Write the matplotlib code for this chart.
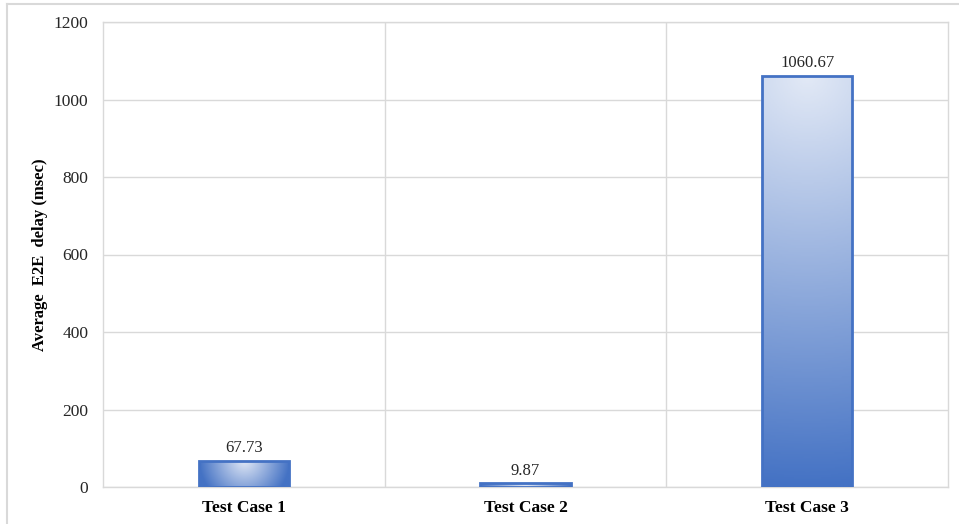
import numpy as np
import matplotlib.pyplot as plt
from matplotlib.colors import LinearSegmentedColormap
from matplotlib.lines import Line2D

categories = ["Test Case 1", "Test Case 2", "Test Case 3"]
delays = [67.73, 9.87, 1060.67]
yticks = [0, 200, 400, 600, 800, 1000, 1200]

plt.rcParams["font.family"] = ["Liberation Serif", "DejaVu Serif"]

fig = plt.figure(figsize=(9.59, 5.24), dpi=100)
ax = fig.add_axes([103 / 959, 37 / 524, 845 / 959, 465 / 524])

x = np.arange(len(categories))
width = 0.32
ax.set_xlim(-0.5, len(categories) - 0.5)
ax.set_ylim(0, 1200)

cmap = LinearSegmentedColormap.from_list("grad", ["#e2e9f6", "#4472c4"])

# pixels per data unit, used to shape each bar's gradient
px_x = 845 / len(categories)
px_y = 465 / 1200

for xi, val in zip(x, delays):
    bars = ax.bar(xi, val, width=width, facecolor="none", edgecolor="#4472c4",
                  linewidth=2, zorder=4)
    hw = width / 2 * px_x
    h = val * px_y
    r = max(hw, h)
    u = np.linspace(-1, 1, 120)[None, :] * hw / r
    v = np.linspace(0, 1, 200)[:, None] * h / r
    t = np.clip(np.sqrt(u ** 2 + v ** 2), 0, 1)
    im = ax.imshow(t, cmap=cmap, vmin=0, vmax=1, aspect="auto",
                   extent=[xi - width / 2, xi + width / 2, 0, val],
                   origin="upper", zorder=3)
    im.set_clip_path(bars[0])
    ax.text(xi, val + 12, "{:.2f}".format(val), ha="center", va="bottom",
            fontsize=12, color="#262626", zorder=5)

ax.set_xlim(-0.5, len(categories) - 0.5)
ax.set_ylim(0, 1200)
ax.set_yticks(yticks)
ax.set_xticks(x)
ax.set_xticklabels(categories, fontsize=12.5, fontweight="bold")
ax.tick_params(axis="y", labelsize=12.5, length=0, pad=10.5, labelcolor="#262626")
ax.tick_params(axis="x", length=0, pad=9)

ax.grid(axis="y", color="#d9d9d9", linewidth=1)
ax.set_axisbelow(True)
for b in [0.5, 1.5]:
    ax.axvline(b, color="#d9d9d9", linewidth=1, zorder=1)
for s in ax.spines.values():
    s.set_color("#d9d9d9")
    s.set_linewidth(1)

ax.set_ylabel("Average  E2E  delay (msec)", fontsize=12, fontweight="bold")
ax.yaxis.set_label_coords(-55 / 845, 0.5)

# outer chart border (only left and top edges fall inside the image)
fig.add_artist(Line2D([6.5 / 959, 6.5 / 959], [0, 1 - 3.5 / 524],
                      transform=fig.transFigure, color="#d9d9d9", linewidth=1.5))
fig.add_artist(Line2D([6.5 / 959, 1], [1 - 3.5 / 524, 1 - 3.5 / 524],
                      transform=fig.transFigure, color="#d9d9d9", linewidth=1.5))

fig.savefig("out.png", dpi=100, facecolor="white")
